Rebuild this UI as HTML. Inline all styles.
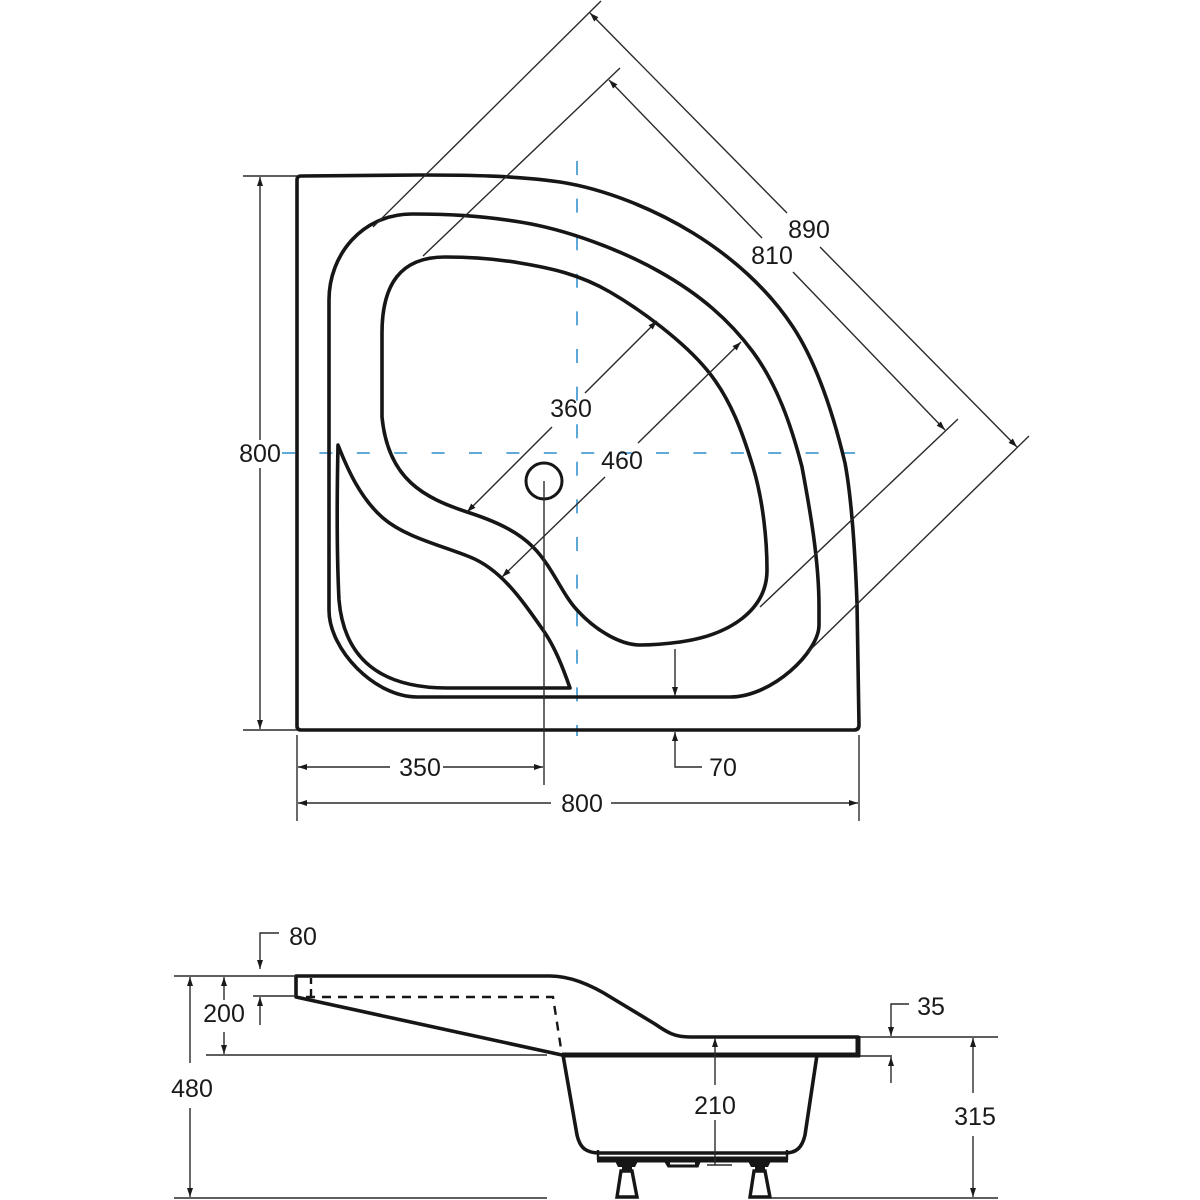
<!DOCTYPE html>
<html>
<head>
<meta charset="utf-8">
<style>
html,body{margin:0;padding:0;background:#fff;width:1200px;height:1200px;overflow:hidden}
svg{display:block}
text{font-family:"Liberation Sans",sans-serif;font-size:25px;fill:#1a1a1a;text-anchor:middle}
.t{fill:none;stroke:#161616;stroke-width:3.6;stroke-linecap:round;stroke-linejoin:round}
.d{fill:none;stroke:#2a2a2a;stroke-width:1.4}
.a{marker-end:url(#ar)}
.bl{fill:none;stroke:#4a9fd4;stroke-width:1.8}
</style>
</head>
<body>
<svg width="1200" height="1200" viewBox="0 0 1200 1200" xmlns="http://www.w3.org/2000/svg">
<defs>
<marker id="ar" viewBox="0 0 9 6" refX="9" refY="3" markerWidth="9" markerHeight="6" markerUnits="userSpaceOnUse" orient="auto">
<path d="M0 0L9 3L0 6Z" fill="#1a1a1a"/>
</marker>
</defs>

<!-- blue centre lines -->
<path class="bl" d="M282 453H855" stroke-dasharray="13 24.4"/>
<path class="bl" d="M577 161V736" stroke-dasharray="14 23.6"/>

<!-- plan view -->
<path class="t" d="M297 180Q297 176 301 176L420 175C467 175 515 175.500 560 182C605 189 654 209 693 233C732 257 768 289 793 327C818 365 834 417 845 463C851 495 855 550 857 603L859 725Q859 730 854 730L301 730Q297 730 297 726Z"/>
<path class="t" d="M329 300C329 255 362 214 412 214C448 214 480 215.600 520 222C567 229.500 621 250 660 272C699 294 729 319.500 753 352C777 384.500 791 424.500 802 467C810 510 819 560 819 607L819 625C819 652 772 697 730 697L417 697C375 697 329 650 329 610Z"/>
<path class="t" d="M382 417L382 333C382 285 400 257 445 257C470 257 497 259 520 263C550 268 579 274 610 292C641 310 683 341 707 370C731 399 743 434 753 467C763 500 767 540 767 570C767 610 730 635 680 642C665 644 650 645 640 645C622 645 597 632 577 610C562 594 552 566 533 547C517 531 495 521 467 512C425 498 388 480 382 417Z"/>
<path class="t" d="M338 445C347 468 360 498 383 518C405 537 440 545 470 557C500 569 520 597 543 630C555 647 563 668 570 688L447 688C395 688 345 670 339 600Q336 540 338 445Z"/>
<circle class="t" cx="544" cy="481" r="18" style="stroke-width:3"/>

<!-- plan dims -->
<path class="d" d="M243 176H297M243 730H297"/>
<path class="d a" d="M260 440V177"/>
<path class="d a" d="M260 468V729"/>
<text x="260" y="462">800</text>

<path class="d" d="M601 1L373 227M620 68L423 256M1029 436L808 652M958 419L760 607"/>
<path class="d a" d="M787 213L590 13"/>
<path class="d a" d="M820 247L1017 447"/>
<text x="809" y="238">890</text>
<path class="d a" d="M762 238L609 80"/>
<path class="d a" d="M793 272L945 430"/>
<text x="772" y="264">810</text>

<path class="d a" d="M585 393L657 321"/>
<path class="d a" d="M552 427L467 512"/>
<text x="571" y="417">360</text>
<path class="d a" d="M638 443L741 342"/>
<path class="d a" d="M605 477L502 577"/>
<text x="622" y="469">460</text>

<path class="d" d="M544 481V785M297 735V821M859 735V821"/>
<path class="d a" d="M390 767H298"/>
<path class="d a" d="M443 767H543"/>
<text x="420" y="776">350</text>
<path class="d a" d="M551 803H298"/>
<path class="d a" d="M611 803H858"/>
<text x="582" y="812">800</text>

<path class="d a" d="M675 649V696"/>
<path class="d a" d="M702 767H675V732"/>
<text x="723" y="776">70</text>

<!-- side view -->
<path class="t" d="M296 976H550C570 976 590 984 612 998L655 1024C668 1033 675 1037 690 1037H858V1055H562L296 997Z"/>
<path class="t" d="M563 1055L577 1135C580 1148 586 1153 600 1153H785C796 1153 802 1148 805 1135L817 1055"/>
<path fill="none" stroke="#161616" stroke-width="5" d="M562 1055H860M858 1036V1057"/>
<path fill="none" stroke="#161616" stroke-width="2.4" stroke-dasharray="9 7" d="M306 997H553L562 1055"/>
<path fill="none" stroke="#161616" stroke-width="2.4" d="M311 978V984M311 989V996"/>

<!-- tub base -->
<path fill="none" stroke="#161616" stroke-width="2.4" d="M598 1150V1160M787 1150V1160"/>
<path fill="#161616" d="M597 1156.500H788V1162.500H597ZM615 1161H638L635 1167H618ZM748 1161H771L768 1167H751Z"/>
<path fill="#161616" stroke="#161616" stroke-width="1" d="M665 1162H700L698 1167H668Z"/>
<path fill="#fff" d="M670 1162.500H695V1164.500H670Z"/>
<path class="d" d="M707 1165H732"/>
<path fill="none" stroke="#161616" stroke-width="3.4" d="M621 1171H632L637 1197H617ZM754 1171H765L770 1197H750Z"/>
<path fill="#161616" d="M622 1166H632V1171H622ZM755 1166H765V1171H755Z"/>

<!-- side dims -->
<path class="d" d="M174 976H296M206 1055H547M174 1198H547M771 1198H998M860 1037H998M860 1056H892M253 996H296"/>
<path class="d a" d="M190 1063V977"/>
<path class="d a" d="M190 1108V1197"/>
<text x="192" y="1097">480</text>
<path class="d a" d="M224 1000V977"/>
<path class="d a" d="M224 1032V1054"/>
<text x="224" y="1022">200</text>
<path class="d a" d="M279 933H260V969"/>
<text x="303" y="945">80</text>
<path class="d a" d="M260 1025V997"/>
<path class="d a" d="M909 1004H891V1036"/>
<text x="931" y="1015">35</text>
<path class="d a" d="M891 1083V1057"/>
<path class="d a" d="M973 1093V1038"/>
<path class="d a" d="M973 1136V1197"/>
<text x="975" y="1125">315</text>
<path class="d a" d="M715 1085V1038"/>
<path class="d" d="M715 1120V1165"/>
<text x="715" y="1114">210</text>
</svg>
</body>
</html>
